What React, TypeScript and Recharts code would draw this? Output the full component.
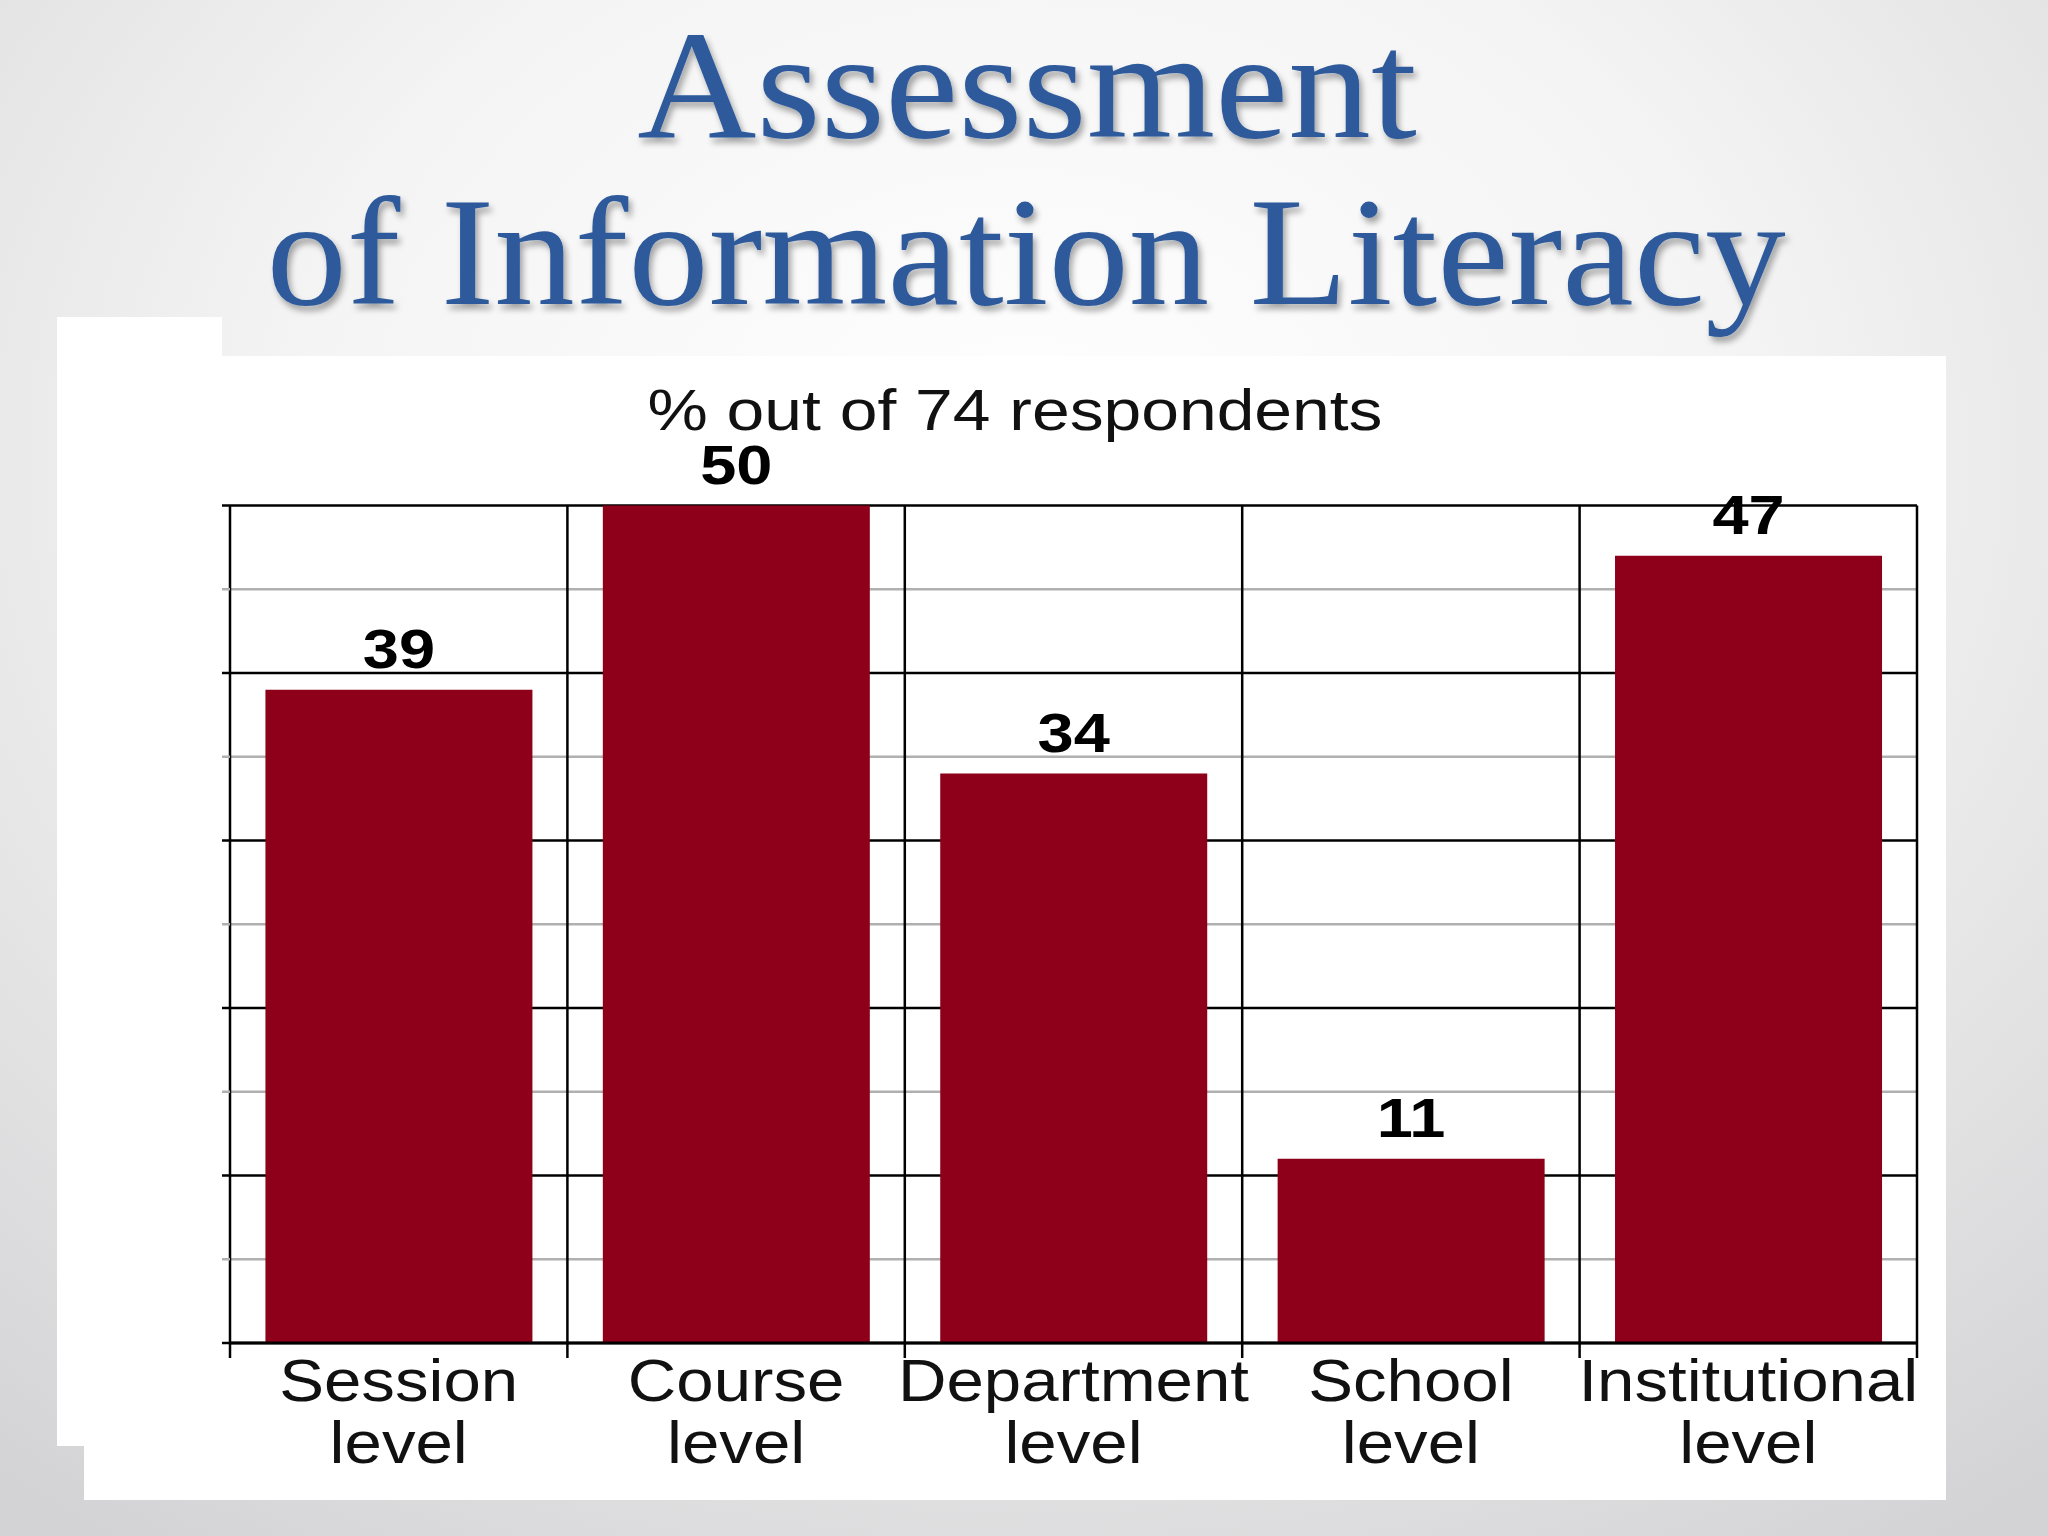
import React from 'react';
import { BarChart, Bar, XAxis, YAxis, CartesianGrid, LabelList } from 'recharts';

const categories = ['Session level', 'Course level', 'Department level', 'School level', 'Institutional level'];
const percentValues = [39, 50, 34, 11, 47];
const majorTicks = [0, 10, 20, 30, 40, 50];
const minorTicks = [5, 15, 25, 35, 45];
const yTicks = [0, 5, 10, 15, 20, 25, 30, 35, 40, 45, 50];
const chartTitle = '% out of 74 respondents';
const titleLines = ['Assessment', 'of Information Literacy'];

const data = categories.map((c, i) => ({ name: c, value: percentValues[i] }));

const Y_MAX = 50;
const BAR_COLOR = '#8e0019';
const SANS = '"Liberation Sans", Arial, sans-serif';

const scaleY = (offset: any, v: number) => offset.top + offset.height * (1 - v / Y_MAX);

const YTick = (props: any) => {
  const { x, y, payload } = props;
  const major = payload.value % 10 === 0;
  return (
    <line x1={x} x2={x + 8} y1={y} y2={y} stroke={major ? '#000' : '#b0b0b0'} strokeWidth={2.5} />
  );
};

const XTick = (props: any) => {
  const { x, y, payload, index, width } = props;
  const half = payload && payload.offset ? payload.offset : width / (2 * categories.length);
  const label: string = String(payload.value);
  const sp = label.lastIndexOf(' ');
  const l1 = label.slice(0, sp);
  const l2 = label.slice(sp + 1);
  const last = index === categories.length - 1;
  return (
    <g>
      <line x1={x - half} x2={x - half} y1={y - 15} y2={y} stroke="#000" strokeWidth={2.5} />
      {last && <line x1={x + half} x2={x + half} y1={y - 15} y2={y} stroke="#000" strokeWidth={2.5} />}
      <text transform={`translate(${x},${y + 43}) scale(1.12,1)`} textAnchor="middle" fontFamily={SANS} fontSize={60} fill="#111">
        {l1}
      </text>
      <text transform={`translate(${x},${y + 105}) scale(1.12,1)`} textAnchor="middle" fontFamily={SANS} fontSize={60} fill="#111">
        {l2}
      </text>
    </g>
  );
};

const ValueLabel = (props: any) => {
  const { x, y, width, value } = props;
  const cx = Number(x) + Number(width) / 2;
  return (
    <text transform={`translate(${cx},${Number(y) - 22}) scale(1.16,1)`} textAnchor="middle" fontFamily={SANS} fontWeight="bold" fontSize={56} fill="#000">
      {value}
    </text>
  );
};

export default function App() {
  return (
    <div
      style={{
        position: 'absolute',
        left: 0,
        top: 0,
        width: 2048,
        height: 1536,
        overflow: 'hidden',
        background: 'radial-gradient(ellipse 80% 85% at 50% 30%, #ffffff 0%, #f4f4f4 45%, #d3d3d5 100%)',
      }}
    >
      <div style={{ position: 'absolute', left: 57, top: 317, width: 165, height: 1129, background: '#fff' }} />
      <div style={{ position: 'absolute', left: 84, top: 356, width: 1862, height: 1144, background: '#fff' }} />
      <div style={{ position: 'absolute', left: 0, top: 0 }}>
        <BarChart
          width={2048}
          height={1536}
          data={data}
          margin={{ top: 505.5, right: 131, left: 200, bottom: 73 }}
          barCategoryGap="10.5%"
        >
          <CartesianGrid
            vertical={false}
            stroke="#b0b0b0"
            strokeWidth={2.5}
            horizontalCoordinatesGenerator={({ offset }: any) => minorTicks.map((v) => scaleY(offset, v))}
          />
          <CartesianGrid
            stroke="#000"
            strokeWidth={2.5}
            horizontalCoordinatesGenerator={({ offset }: any) => majorTicks.map((v) => scaleY(offset, v))}
            verticalCoordinatesGenerator={({ offset }: any) =>
              Array.from({ length: categories.length + 1 }, (_, i) => offset.left + (i * offset.width) / categories.length)
            }
          />
          <XAxis
            dataKey="name"
            interval={0}
            tickSize={15}
            tickMargin={0}
            tickLine={false}
            axisLine={{ stroke: '#000', strokeWidth: 3 }}
            height={120}
            tick={<XTick />}
          />
          <YAxis
            domain={[0, Y_MAX]}
            ticks={yTicks}
            interval={0}
            width={30}
            tickSize={8}
            tickMargin={0}
            tickLine={false}
            axisLine={false}
            tick={<YTick />}
          />
          <Bar dataKey="value" fill={BAR_COLOR} isAnimationActive={false}>
            <LabelList dataKey="value" content={<ValueLabel />} />
          </Bar>
        </BarChart>
      </div>
      <svg width={2048} height={1536} style={{ position: 'absolute', left: 0, top: 0, pointerEvents: 'none' }}>
        <defs>
          <filter id="tshadow" x="-10%" y="-30%" width="120%" height="160%">
            <feDropShadow dx={3} dy={5} stdDeviation={3} floodColor="#000" floodOpacity={0.35} />
          </filter>
        </defs>
        <g filter="url(#tshadow)" fill="#2d5a9b" fontFamily='"Liberation Serif", "Times New Roman", serif' fontSize={154}>
          <text transform="translate(1027,137) scale(1.072,1)" textAnchor="middle">{titleLines[0]}</text>
          <text transform="translate(1026,304) scale(1.045,1)" textAnchor="middle">{titleLines[1]}</text>
        </g>
        <text transform="translate(1015,430) scale(1.19,1)" textAnchor="middle" fontFamily={SANS} fontSize={57} fill="#111">
          {chartTitle}
        </text>
      </svg>
    </div>
  );
}
